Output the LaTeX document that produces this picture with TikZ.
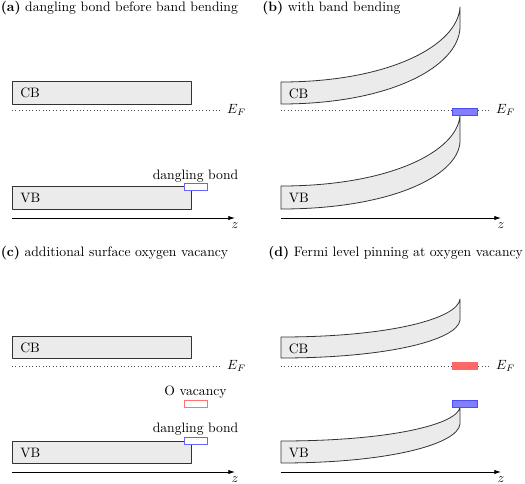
\documentclass[tikz,border=0pt]{standalone}
\usetikzlibrary{arrows.meta}
\begin{document}
\begin{tikzpicture}[x=0.75pt,y=-0.75pt,
  font=\fontsize{10.25pt}{12pt}\selectfont,
  band/.style={draw=black!80,line width=0.6pt,fill=black!8,line join=round},
  fermi/.style={dotted,draw=black!70,line width=0.55pt},
  axis/.style={draw=black,line width=0.55pt,-{Latex[length=5pt,width=3.2pt]}},
  dbopen/.style={draw=blue!60,line width=0.6pt,fill=white},
  dbfill/.style={draw=blue!70,line width=0.6pt,fill=blue!50},
  ovopen/.style={draw=red!55,line width=0.6pt,fill=white},
  ovfill/.style={draw=red!60,line width=0.6pt,fill=red!60},
  lbl/.style={inner sep=0pt,anchor=base},
  ttl/.style={inner sep=0pt,anchor=base west},
  bandlbl/.style={anchor=west,inner sep=0pt}
]
\useasboundingbox (0,0) rectangle (525,483);

% ---------- (a) ----------
\node[ttl] (ta) at (0.5,11) {\textbf{(a)} dangling bond before band bending};
\draw[band] (12,81) rectangle (191,104);
\node[bandlbl] (cba) at (20,93) {CB};
\draw[fermi] (12,110) coordinate (efa0) -- (220,110) coordinate (efa1);
\node[anchor=west] (efla) at (222.5,110) {$E_F$};
\draw[band] (12,186) rectangle (191,209);
\node[bandlbl] (vba) at (20,198) {VB};
\draw[dbopen] (184,183) rectangle (207.5,190);
\node[lbl] (dba) at (195.5,179) {dangling bond};
\coordinate (za0) at (12,218);
\coordinate (za1) at (235,218);
\draw[axis] (za0) -- (za1);
\node[anchor=north] (zla) at (za1) {$z$};

% ---------- (b) ----------
\node[ttl] (tb) at (262,11) {\textbf{(b)} with band bending};
\draw[band] (281,82) .. controls (390,82) and (458,45) .. (460,7)
  -- (460,28) .. controls (458,66.8) and (390,104) .. (281,104) -- cycle;
\node[bandlbl] (cbb) at (288.5,94) {CB};
\draw[band] (281,186) .. controls (390,186) and (458,151.2) .. (460,115)
  -- (460,142) .. controls (458,176.2) and (390,209) .. (281,209) -- cycle;
\node[bandlbl] (vbb) at (288.5,198) {VB};
\draw[fermi] (281,110) coordinate (efb0) -- (490,110) coordinate (efb1);
\node[anchor=west] (eflb) at (491.5,110) {$E_F$};
\draw[dbfill] (452,108) rectangle (477,115);
\coordinate (zb0) at (281,218);
\coordinate (zb1) at (501,218);
\draw[axis] (zb0) -- (zb1);
\node[anchor=north] (zlb) at (zb1) {$z$};

% ---------- (c) ----------
\node[ttl] (tc) at (0.5,256) {\textbf{(c)} additional surface oxygen vacancy};
\draw[band] (12,336) rectangle (191,358);
\node[bandlbl] (cbc) at (20,347.5) {CB};
\draw[fermi] (12,366) coordinate (efc0) -- (220,366) coordinate (efc1);
\node[anchor=west] (eflc) at (222.5,366) {$E_F$};
\draw[ovopen] (184,400) rectangle (207.5,407);
\node[lbl] (ovc) at (195.5,395.5) {O vacancy};
\draw[band] (12,441) rectangle (191,463);
\node[bandlbl] (vbc) at (20,452.5) {VB};
\draw[dbopen] (184,437) rectangle (207.5,444);
\node[lbl] (dbc) at (195.5,432.5) {dangling bond};
\coordinate (zc0) at (12,472);
\coordinate (zc1) at (235,472);
\draw[axis] (zc0) -- (zc1);
\node[anchor=north] (zlc) at (zc1) {$z$};

% ---------- (d) ----------
\node[ttl] (td) at (268,256.5) {\textbf{(d)} Fermi level pinning at oxygen vacancy};
\draw[band] (281,337) .. controls (390,337) and (458,318.4) .. (460,299)
  -- (460,320) .. controls (458,339.4) and (390,358) .. (281,358) -- cycle;
\node[bandlbl] (cbd) at (288.5,348.5) {CB};
\draw[band] (281,441) .. controls (390,441) and (458,424.3) .. (460,407)
  -- (460,424) .. controls (458,443.9) and (390,463) .. (281,463) -- cycle;
\node[bandlbl] (vbd) at (288.5,452.5) {VB};
\draw[fermi] (281,366) coordinate (efd0) -- (490,366) coordinate (efd1);
\node[anchor=west] (efld) at (491.5,366) {$E_F$};
\draw[ovfill] (452,362) rectangle (477,369);
\draw[dbfill] (452,400) rectangle (477,407);
\coordinate (zd0) at (281,472);
\coordinate (zd1) at (501,472);
\draw[axis] (zd0) -- (zd1);
\node[anchor=north] (zld) at (zd1) {$z$};
\end{tikzpicture}
\end{document}
